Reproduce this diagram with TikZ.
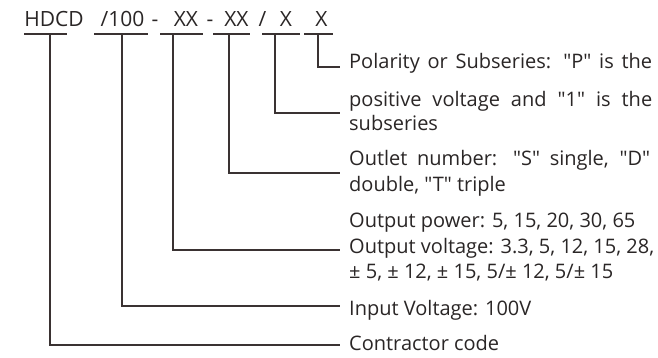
\documentclass[tikz,border=0pt]{standalone}
\usepackage{fontspec}
\setmainfont{Open Sans}[Ligatures=TeXOff]
\definecolor{txt}{HTML}{2A2626}
\definecolor{ln}{HTML}{3A3232}
\begin{document}
\begin{tikzpicture}[x=1pt,y=-1pt,
  hdr/.style={font=\fontsize{21}{24}\selectfont, text=txt, inner sep=0pt, anchor=base},
  lab/.style={font=\fontsize{20}{24}\selectfont, text=txt, inner sep=0pt, anchor=base west},
  ul/.style={draw=ln, line width=1.8pt},
  conn/.style={draw=ln, line width=1.8pt}]
\useasboundingbox[fill=white] (0,0) rectangle (658,357);
% header code
\node[hdr] (hdcd) at (54,26) {HDCD};
\node[hdr] (v100) at (122.5,26) {/100};
\node[hdr] (d1) at (155,26) {-};
\node[hdr] (xx1) at (186,26) {XX};
\node[hdr] (d2) at (210,26) {-};
\node[hdr] (xx2) at (236.5,26) {XX};
\node[hdr] (sl) at (262.5,26) {/};
\node[hdr] (x1) at (286,26) {X};
\node[hdr] (x2) at (321.5,26) {X};
% underline ends
\coordinate (a1) at (24,34);  \coordinate (b1) at (67,34);
\coordinate (a2) at (94,34);  \coordinate (b2) at (148,34);
\coordinate (a3) at (160,34); \coordinate (b3) at (203,34);
\coordinate (a4) at (213,34); \coordinate (b4) at (250,34);
\coordinate (a5) at (262,34); \coordinate (b5) at (300,34);
\coordinate (a6) at (304,34); \coordinate (b6) at (333,34);
\foreach \i in {1,...,6} {\draw[ul] (a\i) -- (b\i);}
% connector starts
\coordinate (t1) at (50,34);
\coordinate (t2) at (122,34);
\coordinate (t3) at (173,34);
\coordinate (t4) at (229,34);
\coordinate (t5) at (275,34);
\coordinate (t6) at (318,34);
% connector ends
\coordinate (e1) at (340,345);
\coordinate (e2) at (340,306);
\coordinate (e3) at (340,250);
\coordinate (e4) at (340,173);
\coordinate (e5) at (340,113);
\coordinate (e6) at (340,67);
\foreach \i in {1,...,6} {\draw[conn] (t\i) |- (e\i);}
% labels
\node[lab] (l1) at (349,68) {\makebox[303pt][s]{Polarity or Subseries: "P" is the}};
\node[lab] (l2) at (349,106) {\makebox[303pt][s]{positive voltage and "1" is the}};
\node[lab] (l3) at (349,130) {subseries};
\node[lab] (l4) at (349,165) {\makebox[301pt][s]{Outlet number: "S" single, "D"}};
\node[lab] (l5) at (349,191) {double, "T" triple};
\node[lab] (l6) at (349,227) {Output power: 5, 15, 20, 30, 65};
\node[lab] (l7) at (349,253) {Output voltage: 3.3, 5, 12, 15, 28,};
\node[lab] (l8) at (349,278) {± 5, ± 12, ± 15, 5/± 12, 5/± 15};
\node[lab] (l9) at (349,315) {Input Voltage: 100V};
\node[lab] (l10) at (349,350) {Contractor code};
\end{tikzpicture}
\end{document}
